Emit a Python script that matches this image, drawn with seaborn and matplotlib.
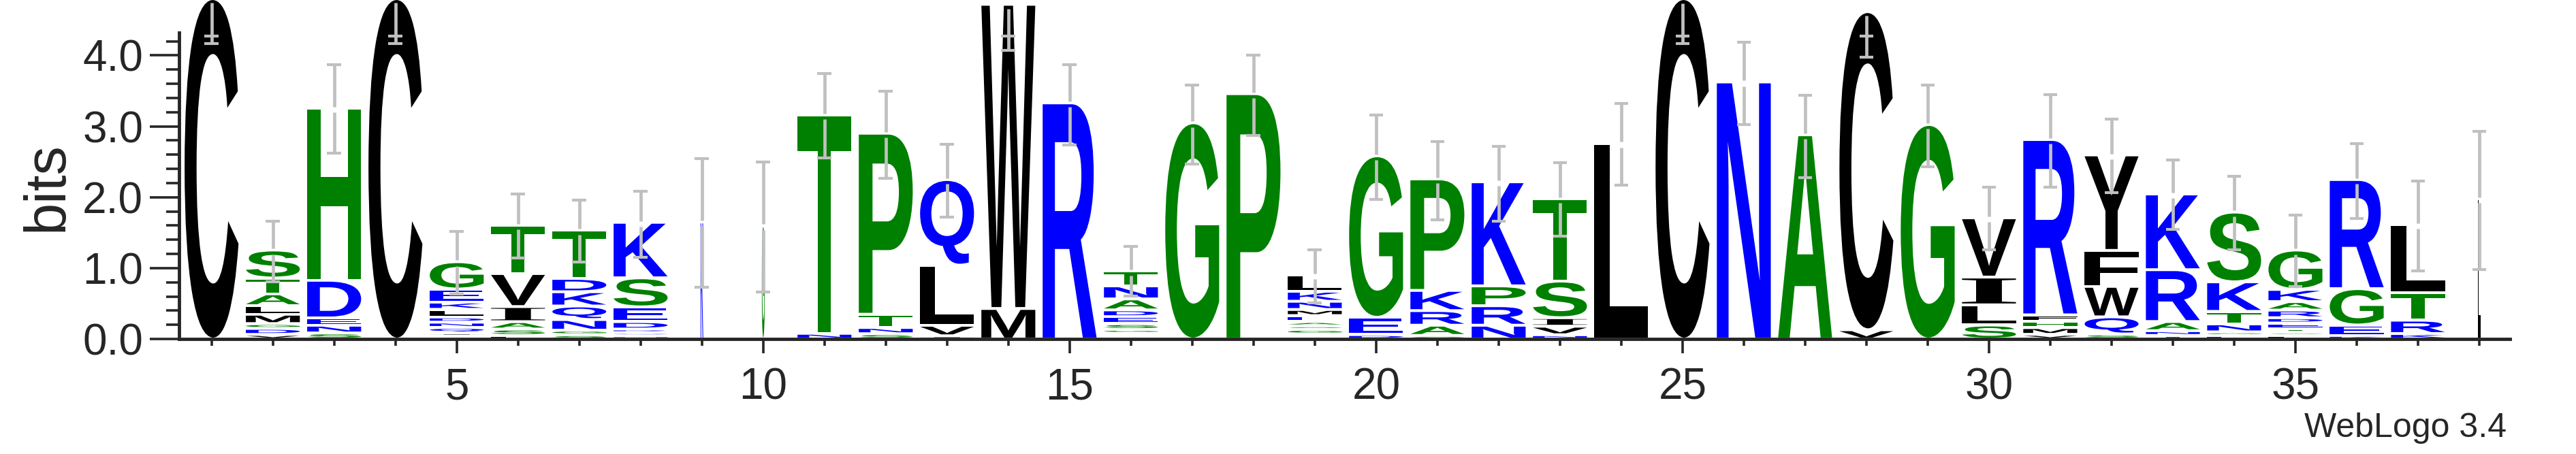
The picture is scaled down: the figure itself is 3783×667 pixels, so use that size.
import matplotlib
matplotlib.use('Agg')
import matplotlib.pyplot as plt
import seaborn as sns
from matplotlib.textpath import TextPath
from matplotlib.patches import PathPatch
from matplotlib.font_manager import FontProperties
from matplotlib.transforms import Affine2D
from matplotlib.ticker import MultipleLocator, FixedLocator, FormatStrFormatter

# sequence logo data: letters bottom -> top, with their heights in bits
positions = list(range(1, 39))
stack_letters = [
    "C", "VDGMLATS", "SNEDH", "C", "RIQNDLKEG", "LSAIVT", "SGNQKDT", "NQRDESK",
    "K", "G", "NT", "SNTP", "IVLQ", "MW", "R", "QKGSEDANT", "G", "P",
    "RQGSAEMNKL", "DEG", "SARKP", "NRPK", "NVIST", "L", "C", "N", "A", "VC",
    "G", "SLIV", "VMHFR", "SQWFY", "TNARK", "EGNTKS", "LSTEDRAKG", "KEGR",
    "KRTL", "L",
]
stack_bits = [
    [4.80],
    [0.064, 0.085, 0.068, 0.132, 0.121, 0.167, 0.223, 0.395],
    [0.085, 0.109, 0.103, 0.531, 2.43],
    [4.80],
    [0.04, 0.045, 0.078, 0.074, 0.073, 0.108, 0.102, 0.185, 0.385],
    [0.05, 0.09, 0.104, 0.213, 0.466, 0.68],
    [0.06, 0.064, 0.15, 0.191, 0.201, 0.188, 0.679],
    [0.045, 0.045, 0.05, 0.105, 0.2075, 0.41, 0.783],
    [1.65],
    [1.60],
    [0.08, 3.08],
    [0.074, 0.088, 0.187, 2.553],
    [0.045, 0.148, 0.848, 1.208],
    [0.43, 4.29],
    [3.33],
    [0.04, 0.04, 0.055, 0.081, 0.099, 0.095, 0.155, 0.184, 0.208],
    [3.05],
    [3.46],
    [0.035, 0.035, 0.065, 0.05, 0.06, 0.085, 0.086, 0.116, 0.141, 0.23],
    [0.062, 0.243, 2.279],
    [0.05, 0.144, 0.206, 0.285, 1.573],
    [0.194, 0.275, 0.28, 1.468],
    [0.06, 0.12, 0.12, 0.517, 1.163],
    [2.76],
    [4.80],
    [3.625],
    [2.88],
    [0.13, 4.487],
    [3.025],
    [0.197, 0.284, 0.392, 0.836],
    [0.065, 0.095, 0.09, 0.09, 2.473],
    [0.07, 0.242, 0.43, 0.507, 1.347],
    [0.05, 0.067, 0.129, 0.731, 1.068],
    [0.05, 0.05, 0.113, 0.176, 0.417, 0.984],
    [0.05, 0.045, 0.05, 0.08, 0.075, 0.107, 0.12, 0.172, 0.556],
    [0.05, 0.147, 0.513, 1.539],
    [0.077, 0.188, 0.389, 0.959],
    [1.98],
]
# fraction of non-gap symbols per column (scales stack width)
col_weight = [1.0] * 8 + [0.05, 0.05] + [1.0] * 27 + [0.06]
err_low = [4.17, 0.803, 2.62, 4.17, 0.638, 1.145, 1.081, 1.148, 0.727, 0.658,
           2.556, 2.27, 1.719, 4.07, 2.74, 0.608, 2.466, 2.874, 0.505, 1.964,
           1.679, 1.658, 1.446, 2.168, 4.165, 3.025, 2.278, 3.973, 2.433, 1.258,
           2.14, 2.066, 1.544, 1.262, 0.74, 1.699, 0.964, 0.984]
err_high = [4.78, 1.657, 3.87, 4.78, 1.515, 2.041, 1.955, 2.087, 2.544, 2.495,
            3.74, 3.495, 2.748, 4.68, 3.87, 1.305, 3.585, 4.005, 1.257, 3.156,
            2.78, 2.719, 2.482, 3.323, 4.73, 4.189, 3.433, 4.568, 3.584, 2.14,
            3.446, 3.099, 2.523, 2.299, 1.752, 2.76, 2.229, 2.93]

GREEN, BLUE, BLACK = '#008000', '#0000ff', '#000000'
letter_color = {}
for ch in "RKDENQ":
    letter_color[ch] = BLUE
for ch in "SGHTAP":
    letter_color[ch] = GREEN
for ch in "YVMCLFIW":
    letter_color[ch] = BLACK

sns.set_style('ticks')
plt.rcParams['font.family'] = ['Liberation Sans', 'DejaVu Sans']

fp_bold = FontProperties(family='Liberation Sans', weight='bold')
fp_serif = FontProperties(family='Liberation Serif', weight='bold')
PAD = 0.02


def draw_letter(ax, ch, x, y0, w, h, color):
    prop = fp_serif if ch == 'I' else fp_bold
    tp = TextPath((0, 0), ch, size=1, prop=prop)
    bb = tp.get_extents()
    tr = (Affine2D().translate(-bb.x0, -bb.y0)
          .scale(w / bb.width, h / bb.height)
          .translate(x - w / 2, y0))
    ax.add_patch(PathPatch(tr.transform_path(tp), facecolor=color,
                           edgecolor='none', lw=0, clip_on=False, zorder=2))


fig = plt.figure(figsize=(37.83, 6.67), dpi=100)
ax = fig.add_axes([263 / 3783, 169 / 667, 3423 / 3783, 450 / 667])

tops = []
for pos, letters, bits, wt in zip(positions, stack_letters, stack_bits, col_weight):
    y = 0.0
    w = 0.88 * wt
    for ch, b in zip(letters, bits):
        h = b - 2 * PAD
        if h > 0.003:
            draw_letter(ax, ch, pos, y + PAD, w, h, letter_color[ch])
        y += b
    tops.append(y)

# error bars, with a small break where they cross the stack top
GRAY = '#c0c0c0'
for pos, c, lo, hi in zip(positions, tops, err_low, err_high):
    g0, g1 = c - 0.06, c + 0.02
    segs = []
    if min(hi, g0) > lo:
        segs.append((lo, min(hi, g0)))
    if hi > max(lo, g1):
        segs.append((max(lo, g1), hi))
    for a, b in segs:
        ax.plot([pos, pos], [a, b], color=GRAY, lw=3.4, solid_capstyle='butt',
                zorder=3, clip_on=False)
    for cy in (lo, min(hi, 4.27)):
        ax.plot([pos - 0.115, pos + 0.115], [cy, cy], color=GRAY, lw=3.0,
                solid_capstyle='butt', zorder=3, clip_on=False)

ax.set_xlim(0.47, 38.5)
ax.set_ylim(0, 4.32)
sns.despine(ax=ax)
for side in ('left', 'bottom'):
    ax.spines[side].set_linewidth(3.5)
    ax.spines[side].set_zorder(4)

ax.yaxis.set_major_locator(MultipleLocator(1.0))
ax.yaxis.set_minor_locator(MultipleLocator(0.2))
ax.yaxis.set_major_formatter(FormatStrFormatter('%.1f'))
ax.xaxis.set_major_locator(FixedLocator([p for p in positions if p % 5 == 0]))
ax.xaxis.set_minor_locator(FixedLocator(positions))
ax.tick_params(axis='y', which='major', length=31, width=2.6, pad=7, labelsize=46)
ax.tick_params(axis='y', which='minor', length=14, width=2.6)
ax.tick_params(axis='x', which='major', length=15, width=2.6, pad=15, labelsize=46)
ax.tick_params(axis='x', which='minor', length=7.5, width=2.6)

fig.text(70 / 3783, 1 - 274 / 667, 'bits', rotation=90, ha='center', va='center',
         fontsize=61)
fig.text(3681 / 3783, 1 - 642 / 667, 'WebLogo 3.4', ha='right', va='baseline',
         fontsize=36)

fig.savefig('out.png', dpi=100)
